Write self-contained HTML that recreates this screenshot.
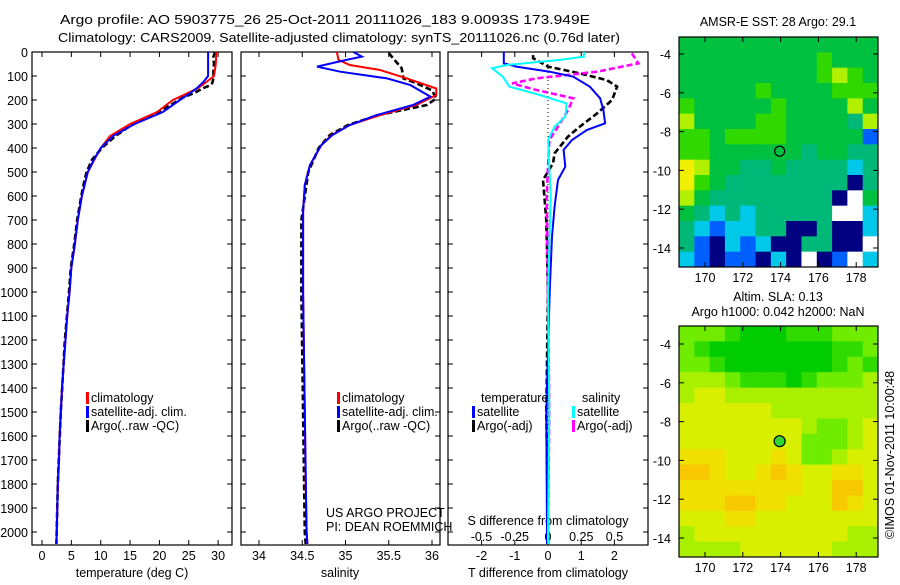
<!DOCTYPE html>
<html><head><meta charset="utf-8">
<style>
body{margin:0;background:#fff;}
svg text{font-family:"Liberation Sans",sans-serif;font-size:12.5px;fill:#000;}
</style></head>
<body>
<svg id="c" width="900" height="580" viewBox="0 0 900 580" xmlns="http://www.w3.org/2000/svg">
<text x="60" y="24" textLength="530" lengthAdjust="spacingAndGlyphs" font-size="14">Argo profile: AO 5903775_26 25-Oct-2011 20111026_183 9.0093S 173.949E</text>
<text x="58" y="42" textLength="562" lengthAdjust="spacingAndGlyphs" font-size="14">Climatology: CARS2009. Satellite-adjusted climatology: synTS_20111026.nc (0.76d later)</text>
<g id="g"></g>
</svg>
<script>
// ---------- data ----------
const depthTicks=[0,100,200,300,400,500,600,700,800,900,1000,1100,1200,1300,1400,1500,1600,1700,1800,1900,2000];
const tempTicks=[0,5,10,15,20,25,30];
const salTicks=[34,34.5,35,35.5,36];
const tdiffTicks=[-2,-1,0,1,2];
const sdiffTicks=[-0.5,-0.25,0,0.25,0.5];
const sdiffLabels=["-0.5","-0.25","0","0.25","0.5"];

const climTdep=[0,50,100,125,150,175,200,250,300,350,400,450,500,600,700,800,900,1000,1100,1200,1300,1400,1500,1600,1700,1800,1900,2000,2050];
const climT=[29.7,29.6,29.3,28.0,26.6,24.5,22.3,19.6,15.0,11.6,10.0,8.9,7.8,6.8,6.1,5.6,5.0,4.7,4.3,4.0,3.7,3.4,3.2,3.0,2.9,2.7,2.6,2.5,2.45];
const satTdep=[0,100,125,150,175,200,250,300,350,400,450,500,600,700,800,900,1000,1100,1200,1300,1400,1500,1600,1700,1800,1900,2000,2050];
const satT=[28.3,28.3,27.5,26.4,25.0,23.5,20.6,15.8,12.1,10.0,8.8,7.8,6.8,6.1,5.6,5.0,4.7,4.3,4.0,3.7,3.4,3.2,3.0,2.9,2.7,2.6,2.5,2.45];
const argoTdep=[0,20,50,80,110,130,140,150,170,190,220,260,300,350,400,450,500,550,600,700,800,900,1000,1200,1500,1800,2000,2050];
const argoT=[29.5,29.2,29.3,29.2,29.2,29.0,28.5,27.5,26.0,24.0,22.0,19.0,15.5,12.5,10.2,8.5,7.6,7.1,6.7,6.0,5.5,4.9,4.6,3.9,3.2,2.7,2.5,2.45];

const climSdep=[0,33,54,75,110,152,179,221,263,304,346,388,471,554,665,1000,1500,1800,2000,2050];
const climS=[34.90,34.92,35.05,35.40,35.71,36.05,36.05,35.82,35.40,35.05,34.84,34.72,34.59,34.53,34.51,34.51,34.53,34.54,34.55,34.56];
const satSdep=[0,19,33,61,82,110,138,186,221,263,304,346,388,471,554,665,1000,1500,2000,2050];
const satS=[35.09,35.19,35.01,34.67,34.94,35.48,35.75,35.98,35.78,35.36,35.05,34.85,34.72,34.59,34.53,34.51,34.51,34.53,34.55,34.56];
const argoSdep=[5,26,68,110,130,160,193,221,263,304,346,400,500,700,1000,1500,2000,2050];
const argoS=[35.5,35.55,35.65,35.67,35.82,36.0,36.05,35.94,35.38,35.03,34.82,34.69,34.57,34.49,34.49,34.51,34.53,34.54];

const tSatDdep=[0,47,61,82,103,144,193,242,297,325,367,408,478,533,644,769,1000,1500,2000,2050];
const tSatD=[-1.33,-1.33,-0.95,0.05,0.76,1.26,1.57,1.67,1.72,1.17,0.72,0.47,0.52,0.3,0.2,0.12,0.05,-0.05,-0.03,-0.03];
const tArgoDdep=[13,26,61,89,117,144,200,256,311,353,422,464,533,700,1000,1500,2000,2050];
const tArgoD=[-0.45,-0.45,0,0.96,1.77,2.08,1.93,1.48,0.96,0.6,0.2,0.15,-0.15,-0.05,0,-0.05,0.0,0.0];
const sSatDdep=[0,19,33,54,68,103,144,179,214,269,311,367,600,1000,1500,2000,2050];
const sSatD=[0.27,0.27,0.09,-0.31,-0.42,-0.34,-0.29,-0.06,0.14,0.13,0.05,0,0.02,0.0,0.01,0.0,0.0];
const sArgoDdep=[6,47,82,110,131,158,193,242,297,367,600,1000,1500,2000,2050];
const sArgoD=[0.63,0.68,0.37,-0.09,-0.27,-0.09,0.19,0.15,0.09,0.01,-0.01,0,0.01,0,0];

const lonTicks=[170,172,174,176,178];
const latTicks=[-4,-6,-8,-10,-12,-14];
const sstRows=["5555555555555","5555555556555","5555555556765","5555565555666","6555556555575","7555566555547","6656666555552","6655555545544","8755445444434","8654444444414","7544444444105","5434344444003","4323344114113","4213231144110","3212213101203"];
const slaRows=["2221000111222","2100000000112","2210000000121","3332111012223","3443333333333","4444443333333","4444444432234","4444444422234","5554445422344","6654456544554","5555555544664","5556655444654","4445544444444","3444444444433","3333444444333"];
const argoLon=[173.949];
const argoLat=[-9.0093];

// ---------- helpers ----------
const NS="http://www.w3.org/2000/svg";
const G=document.getElementById('g');
function mk(tag,attrs,parent){const e=document.createElementNS(NS,tag);for(const k in attrs)e.setAttribute(k,attrs[k]);(parent||G).appendChild(e);return e;}
function txt(x,y,s,anchor,parent){const t=mk('text',{x:x,y:y,'text-anchor':anchor||'start'},parent);t.textContent=s;return t;}

const TOP=52, BOT=545;
const yD=d=>TOP+d*0.24;
const xT=v=>42+v*5.87;
const xS=v=>259+(v-34)*86.5;
const xTD=v=>548+v*33.2;
const xSD=v=>548+v*133;
const panels=[[32,232],[241,440],[448,648]];

panels.forEach((p,i)=>{
  const r=mk('rect',{x:p[0],y:TOP,width:p[1]-p[0],height:BOT-TOP,fill:'none',stroke:'#000','stroke-width':1.2});
  
  
  depthTicks.forEach(d=>{
    mk('line',{x1:p[0],x2:p[0]+5,y1:yD(d),y2:yD(d),stroke:'#000'});
    mk('line',{x1:p[1]-5,x2:p[1],y1:yD(d),y2:yD(d),stroke:'#000'});
  });
});
depthTicks.forEach(d=>{
  const t=txt(28,yD(d)+5,String(d),'end');
  
  
});
function xticks(vals,labels,fx,p,ly){
  vals.forEach((v,i)=>{
    const x=fx(v);
    mk('line',{x1:x,x2:x,y1:BOT-5,y2:BOT,stroke:'#000'});
    mk('line',{x1:x,x2:x,y1:TOP,y2:TOP+5,stroke:'#000'});
    const t=txt(x,ly,labels[i],'middle');
    
    
  });
}
xticks(tempTicks,tempTicks.map(String),xT,panels[0],560);
xticks(salTicks,salTicks.map(String),xS,panels[1],560);
xticks(tdiffTicks,tdiffTicks.map(String),xTD,panels[2],560);
sdiffTicks.forEach((v,i)=>{
  const t=txt(xSD(v),541,sdiffLabels[i],'middle');
  
  
});
let t;
t=txt(132,577,'temperature (deg C)','middle');
t=txt(340,577,'salinity','middle');
t=txt(548,577,'T difference from climatology','middle');
t=txt(548,525,'S difference from climatology','middle');
mk('line',{x1:xTD(0),x2:xTD(0),y1:TOP,y2:BOT,stroke:'#000','stroke-dasharray':'1 3'});

function series(deps,vals,fx,color,dash,name,clip){
  const pts=deps.map((d,i)=>fx(vals[i]).toFixed(1)+','+yD(d).toFixed(1)).join(' ');
  const a={points:pts,fill:'none',stroke:color,'stroke-width':dash?2.6:2};
  if(dash)a['stroke-dasharray']=dash;
  a['clip-path']='url(#'+clip+')';
  const e=mk('polyline',a);
  
  
}
const defs=mk('defs',{});
panels.forEach((p,i)=>{const cp=mk('clipPath',{id:'cp'+i},defs);mk('rect',{x:p[0],y:TOP,width:p[1]-p[0],height:BOT-TOP},cp);});

series(argoTdep,argoT,xT,'#000','6 3','argo-temperature-line','cp0');
series(climTdep,climT,xT,'#f00',null,'climatology-temperature-line','cp0');
series(satTdep,satT,xT,'#00f',null,'satellite-temperature-line','cp0');
series(argoSdep,argoS,xS,'#000','6 3','argo-salinity-line','cp1');
series(climSdep,climS,xS,'#f00',null,'climatology-salinity-line','cp1');
series(satSdep,satS,xS,'#00f',null,'satellite-salinity-line','cp1');
series(tArgoDdep,tArgoD,xTD,'#000','6 3','argo-t-diff-line','cp2');
series(sArgoDdep,sArgoD,xSD,'#f0f','6 3','argo-s-diff-line','cp2');
series(tSatDdep,tSatD,xTD,'#00f',null,'satellite-t-diff-line','cp2');
series(sSatDdep,sSatD,xSD,'#0ff',null,'satellite-s-diff-line','cp2');

function legend(x,y,color,label,name){
  mk('rect',{x:x,y:y-10,width:3,height:12,fill:color});
  const tt=txt(x+5,y,label);
  
  
}
legend(86,402,'#f00','climatology','legend-climatology');
legend(86,416,'#00f','satellite-adj. clim.','legend-satellite');
legend(86,430,'#000','Argo(..raw -QC)','legend-argo');
legend(337,402,'#f00','climatology','legend-climatology-2');
legend(337,416,'#00f','satellite-adj. clim.','legend-satellite-2');
legend(337,430,'#000','Argo(..raw -QC)','legend-argo-2');
t=txt(481,402,'temperature');
t=txt(582,402,'salinity');
legend(472,416,'#00f','satellite','legend-t-satellite');
legend(472,430,'#000','Argo(-adj)','legend-t-argo');
legend(572,416,'#0ff','satellite','legend-s-satellite');
legend(572,430,'#f0f','Argo(-adj)','legend-s-argo');
t=txt(326,517,'US ARGO PROJECT');
t=txt(326,531,'PI: DEAN ROEMMICH');

// ---------- maps ----------
const MX0=679,MX1=878;
const xL=lon=>705+(lon-170)*18.9;
const lonMin=(MX0-705)/18.9+170, lonMax=(MX1-705)/18.9+170;
function drawMap(rows,colors,top,bot,y4,name,marker){
  const yLat=lat=>y4+(-4-lat)*19.4;
  const latTop=-4+(y4-top)/19.4, latBot=-4-(bot-y4)/19.4;
  const nr=rows.length,nc=rows[0].length;
  const g=mk('g',{});
  
  
  for(let r=0;r<nr;r++)for(let c=0;c<nc;c++){
    const la0=latTop+(latBot-latTop)*r/nr, la1=latTop+(latBot-latTop)*(r+1)/nr;
    const lo0=lonMin+(lonMax-lonMin)*c/nc, lo1=lonMin+(lonMax-lonMin)*(c+1)/nc;
    const cell=mk('rect',{x:xL(lo0),y:yLat(la0),width:xL(lo1)-xL(lo0)+0.5,height:yLat(la1)-yLat(la0)+0.5,fill:colors[+rows[r][c]]},g);
    
  }
  mk('rect',{x:MX0,y:top,width:MX1-MX0,height:bot-top,fill:'none',stroke:'#000','stroke-width':1.2});
  lonTicks.forEach(lo=>{mk('line',{x1:xL(lo),x2:xL(lo),y1:bot-5,y2:bot,stroke:'#000'});mk('line',{x1:xL(lo),x2:xL(lo),y1:top,y2:top+5,stroke:'#000'});
    const tt=txt(xL(lo),bot+15,String(lo),'middle');});
  latTicks.forEach(la=>{mk('line',{x1:MX0,x2:MX0+5,y1:yLat(la),y2:yLat(la),stroke:'#000'});mk('line',{x1:MX1-5,x2:MX1,y1:yLat(la),y2:yLat(la),stroke:'#000'});
    const tt=txt(671,yLat(la)+5,String(la),'end');});
  const m=mk('circle',{cx:xL(argoLon[0]),cy:yLat(argoLat[0]),r:marker?5.5:5,fill:marker||'none',stroke:'#000','stroke-width':1.2});
  
  
}
drawMap(sstRows,['#fff','#000080','#0060ff','#00c8e8','#00b878','#00c040','#30d800','#b0f000','#f0f000'],37,267,54,'sst-map',null);
drawMap(slaRows,['#00cc00','#30dc00','#70ec00','#a8f000','#d8f000','#f0e000','#f8c800'],326,557,344,'sla-map','#30d830');
t=txt(778,26,'AMSR-E SST: 28 Argo: 29.1','middle');
t=txt(778,301,'Altim. SLA: 0.13','middle');
t=txt(778,316,'Argo h1000: 0.042 h2000: NaN','middle');
t=txt(0,0,'©IMOS 01-Nov-2011 10:00:48','middle');t.setAttribute('transform','translate(894,455) rotate(-90)');
</script>
</body></html>
